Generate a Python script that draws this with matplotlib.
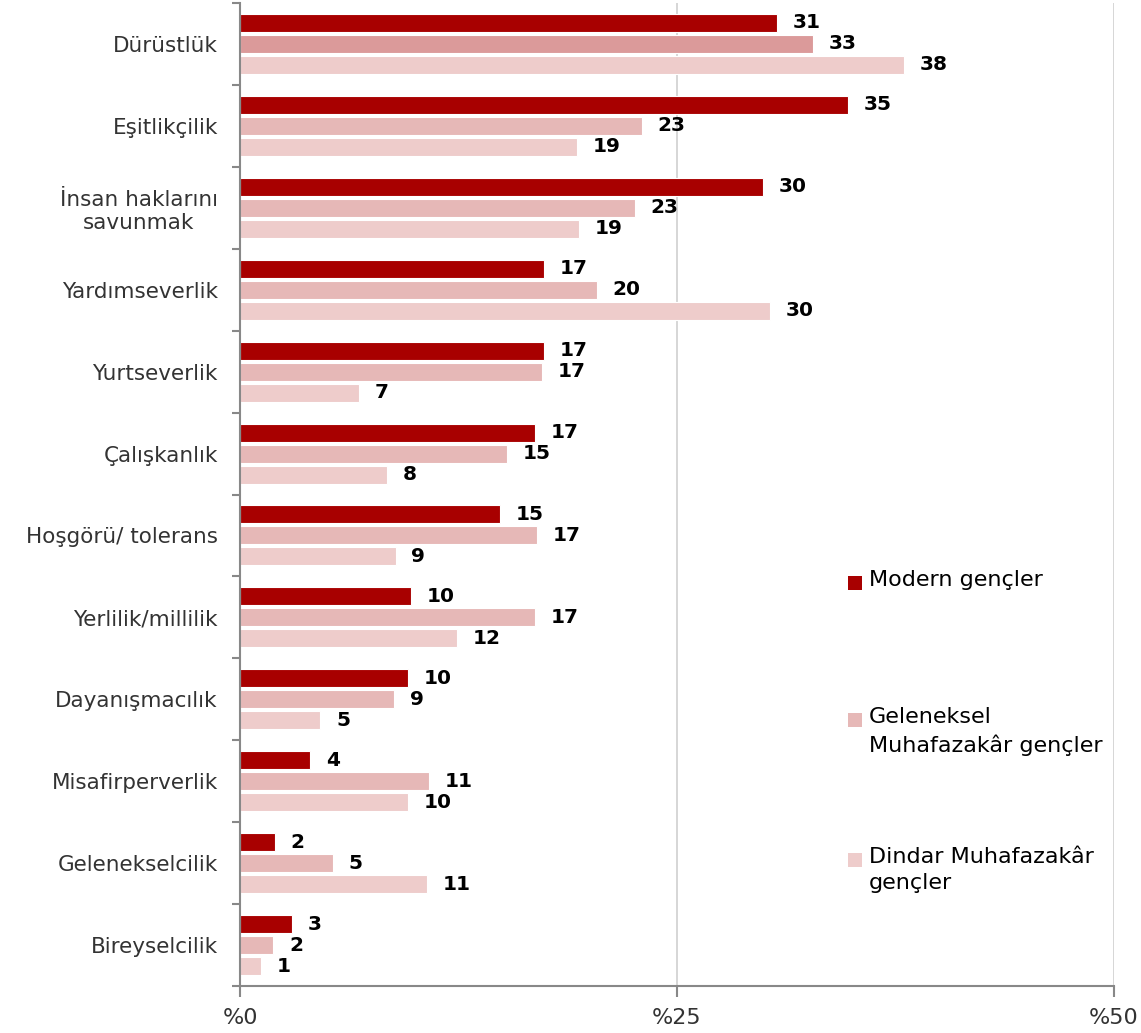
import matplotlib.pyplot as plt
from matplotlib.patches import Rectangle
import numpy as np

categories = ['Dürüstlük', 'Eşitlikçilik', 'İnsan haklarını\nsavunmak', 'Yardımseverlik',
              'Yurtseverlik', 'Çalışkanlık', 'Hoşgörü/ tolerans', 'Yerlilik/millilik',
              'Dayanışmacılık', 'Misafirperverlik', 'Gelenekselcilik', 'Bireyselcilik']
modern = [30.7, 34.8, 29.9, 17.4, 17.4, 16.9, 14.9, 9.8, 9.6, 4.0, 2.0, 3.0]
geleneksel = [32.8, 23.0, 22.6, 20.4, 17.3, 15.3, 17.0, 16.9, 8.8, 10.8, 5.3, 1.9]
dindar = [38.0, 19.3, 19.4, 30.3, 6.8, 8.4, 8.9, 12.4, 4.6, 9.6, 10.7, 1.2]
series_names = ['Modern gençler', 'Geleneksel\nMuhafazakâr gençler', 'Dindar Muhafazakâr\ngençler']

colors = ['#A80000', '#E6B8B7', '#EECCCB']

plt.rcParams['font.family'] = ['DejaVu Sans']

fig = plt.figure(figsize=(11.41, 10.33), dpi=100)
ax = fig.add_axes([240 / 1141, 1 - 986 / 1033, 874 / 1141, 983 / 1033])

y = np.arange(len(categories))
h = 0.22
off = 0.256
for i, (vals, col) in enumerate(zip([modern, geleneksel, dindar], colors)):
    pos = y + (i - 1) * off
    bars = ax.barh(pos, vals, height=h, color=col, edgecolor='white', linewidth=0.8, zorder=2)
    for yy, v in zip(pos, vals):
        ax.text(v + 0.9, yy, f'{round(v):d}', va='center', ha='left',
                fontsize=14.5, fontweight='heavy', color='black')
    if i == 1:
        bars[0].set_facecolor('#DB9A9A')

ax.set_xlim(0, 50)
ax.set_ylim(len(categories) - 0.5, -0.5)
ax.set_xticks([0, 25, 50])
ax.set_xticklabels(['%0', '%25', '%50'], fontsize=16, color='#333333')
ax.xaxis.grid(True, color='#D0D0D0', linewidth=1.2, zorder=0)

ax.set_yticks(y)
ax.set_yticklabels(categories, fontsize=15.5, color='#333333', multialignment='center')
ax.tick_params(axis='y', length=0, pad=16)
ax.set_yticks(np.arange(len(categories) + 1) - 0.5, minor=True)
ax.tick_params(axis='y', which='minor', length=6, color='#888888', width=1.5)
ax.tick_params(axis='x', length=8, color='#888888', width=1.5, pad=8)

for s in ['top', 'right']:
    ax.spines[s].set_visible(False)
for s in ['left', 'bottom']:
    ax.spines[s].set_color('#888888')
    ax.spines[s].set_linewidth(1.5)

# legend, drawn by hand to keep the square at the first line
legend_y = [583, 720, 860]
for name, col, ly in zip(series_names, colors, legend_y):
    fig.patches.append(Rectangle((848 / 1141, 1 - (ly + 7) / 1033), 14 / 1141, 14 / 1033,
                                 transform=fig.transFigure, facecolor=col, edgecolor='none'))
    fig.text(869 / 1141, 1 - (ly - 13) / 1033, name, ha='left', va='top', fontsize=16,
             color='black', linespacing=1.4)

fig.savefig('out.png', dpi=100)
